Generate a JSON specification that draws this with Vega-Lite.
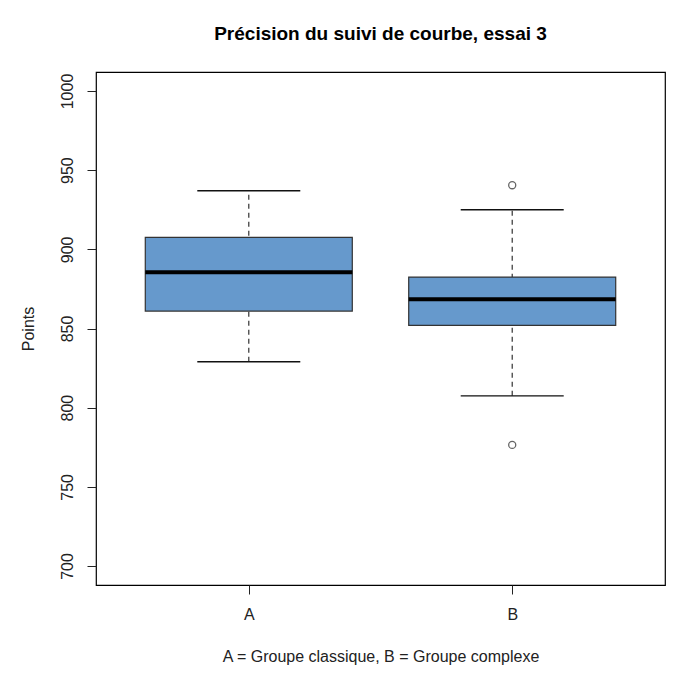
{
  "$schema": "https://vega.github.io/schema/vega-lite/v6.json",
  "autosize": {"type": "none"},
  "padding": {"left": 96, "top": 72, "right": 24, "bottom": 90},
  "width": 569,
  "height": 513,
  "background": "white",
  "title": {
    "text": "Précision du suivi de courbe, essai 3",
    "font": "Liberation Sans",
    "fontSize": 19,
    "fontWeight": "bold",
    "color": "black",
    "anchor": "middle",
    "offset": 28
  },
  "config": {
    "view": {"stroke": "black", "strokeWidth": 1.2},
    "axis": {
      "labelFont": "Liberation Sans",
      "titleFont": "Liberation Sans",
      "labelFontSize": 16,
      "titleFontSize": 16,
      "labelColor": "#222",
      "titleColor": "#222",
      "titleFontWeight": "normal",
      "grid": false,
      "domain": false,
      "tickColor": "#222",
      "tickSize": 9
    }
  },
  "datasets": {
    "stats": [
      {"group": "A", "lower": 829, "q1": 861, "median": 885.5, "q3": 907.5, "upper": 937},
      {"group": "B", "lower": 807.5, "q1": 852, "median": 868.5, "q3": 882.5, "upper": 925}
    ],
    "outliers": [
      {"group": "B", "value": 940.5},
      {"group": "B", "value": 776.5}
    ]
  },
  "encoding": {
    "x": {
      "field": "group",
      "type": "nominal",
      "scale": {"type": "point", "padding": 0.58},
      "axis": {"labelAngle": 0, "labelPadding": 12, "title": "A = Groupe classique, B = Groupe complexe", "titlePadding": 26}
    }
  },
  "layer": [
    {
      "data": {"name": "stats"},
      "mark": {"type": "rule", "strokeDash": [5, 4], "color": "#333", "strokeWidth": 1.2},
      "encoding": {
        "y": {"field": "lower", "type": "quantitative", "scale": {"domain": [688, 1012], "nice": false, "zero": false},
          "axis": {"values": [700, 750, 800, 850, 900, 950, 1000], "format": "d", "labelAngle": 270, "labelAlign": "center", "labelBaseline": "bottom", "labelPadding": 12, "title": "Points", "titlePadding": 23}},
        "y2": {"field": "upper"}
      }
    },
    {
      "data": {"name": "stats"},
      "mark": {"type": "tick", "size": 103, "thickness": 1.3, "color": "#111", "opacity": 1},
      "encoding": {"y": {"field": "lower", "type": "quantitative"}}
    },
    {
      "data": {"name": "stats"},
      "mark": {"type": "tick", "size": 103, "thickness": 1.3, "color": "#111", "opacity": 1},
      "encoding": {"y": {"field": "upper", "type": "quantitative"}}
    },
    {
      "data": {"name": "stats"},
      "mark": {"type": "bar", "width": 207, "fill": "#6699cc", "stroke": "#333", "strokeWidth": 1.2, "opacity": 1},
      "encoding": {"y": {"field": "q1", "type": "quantitative"}, "y2": {"field": "q3"}}
    },
    {
      "data": {"name": "stats"},
      "mark": {"type": "tick", "size": 207, "thickness": 4, "color": "black", "opacity": 1},
      "encoding": {"y": {"field": "median", "type": "quantitative"}}
    },
    {
      "data": {"name": "outliers"},
      "mark": {"type": "point", "filled": false, "size": 50, "stroke": "#666", "strokeWidth": 1.3, "opacity": 1},
      "encoding": {"y": {"field": "value", "type": "quantitative"}}
    }
  ]
}
